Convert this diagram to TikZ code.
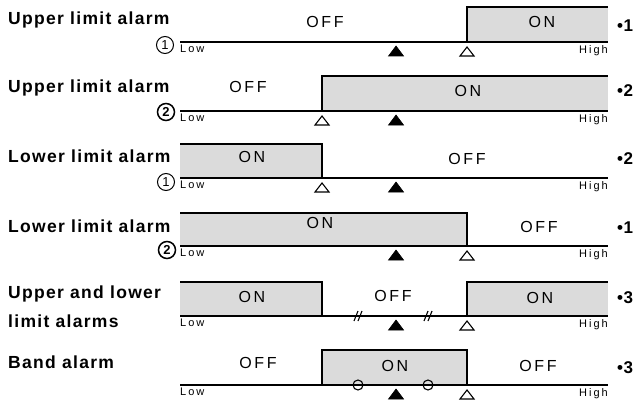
\documentclass[tikz,border=0pt]{standalone}
\usepackage{fontspec}
\setmainfont{Liberation Sans}
\newfontfamily\lblfont[LetterSpace=7.5]{Liberation Sans}
\newfontfamily\stfont[LetterSpace=16]{Liberation Sans}
\newfontfamily\smfont[LetterSpace=18]{Liberation Sans}
\tikzset{
  lbl/.style={font=\lblfont\bfseries\fontsize{17.5}{20}\selectfont, anchor=base west, inner sep=0},
  st/.style={font=\stfont\fontsize{16}{18}\selectfont, anchor=base, inner sep=0},
  lo/.style={font=\smfont\fontsize{11}{12}\selectfont, anchor=north west, inner sep=0},
  hi/.style={font=\smfont\fontsize{11}{12}\selectfont, anchor=north east, inner sep=0},
  note/.style={font=\bfseries\fontsize{17}{19}\selectfont, anchor=base west, inner sep=0},
  num/.style={circle, draw, line width=1pt, minimum size=17pt, inner sep=0, font=\fontsize{13}{14}\selectfont},
  numb/.style={num, line width=1.5pt, font=\bfseries\fontsize{13}{14}\selectfont},
  onfill/.style={fill=black!14},
  edge/.style={line width=1.3pt},
  axis/.style={line width=1.4pt},
  btri/.pic={\filldraw[line width=0.6pt] (0,4) -- (-7.5,14) -- (7.5,14) -- cycle;},
  wtri/.pic={\draw[line width=1.1pt, line join=miter] (0,5) -- (-7,14) -- (7,14) -- cycle;},
}
\begin{document}
\begin{tikzpicture}[x=1pt,y=-1pt]
\useasboundingbox (0,0) rectangle (639,401);

% ---------- Row 1: Upper limit alarm (1)
\fill[onfill] (467,7) rectangle (608,42);
\coordinate (a1) at (180,42); \coordinate (b1) at (608,42);
\coordinate (s1) at (467,42); \coordinate (t1) at (467,7); \coordinate (u1) at (608,7);
\draw[edge] (s1) -- (t1) -- (u1);
\draw[axis] (a1) -- (b1);
\node[lbl] (l1) at (8,25) {Upper limit alarm};
\node[st] (off1) at (325,28) {OFF};
\node[st] (on1) at (542,28) {ON};
\node[note] (n1) at (617,32) {•\kern0.5pt1};
\node[num] (c1) at (165,45) {1};
\node[lo] (lo1) at (180,45) {Low};
\node[hi] (hi1) at (608,45) {High};
\pic at (396,42) {btri};
\pic at (467,42) {wtri};

% ---------- Row 2: Upper limit alarm (2)
\fill[onfill] (322,76) rectangle (608,111);
\coordinate (a2) at (180,111); \coordinate (b2) at (608,111);
\coordinate (s2) at (322,111); \coordinate (t2) at (322,76); \coordinate (u2) at (608,76);
\draw[edge] (s2) -- (t2) -- (u2);
\draw[axis] (a2) -- (b2);
\node[lbl] (l2) at (8,93) {Upper limit alarm};
\node[st] (off2) at (248,93) {OFF};
\node[st] (on2) at (468,97) {ON};
\node[note] (n2) at (617,97) {•\kern0.5pt2};
\node[numb] (c2) at (166,112) {2};
\node[lo] (lo2) at (180,114) {Low};
\node[hi] (hi2) at (608,114) {High};
\pic at (322,111) {wtri};
\pic at (396,111) {btri};

% ---------- Row 3: Lower limit alarm (1)
\fill[onfill] (180,144) rectangle (322,178);
\coordinate (a3) at (180,178); \coordinate (b3) at (608,178);
\coordinate (t3) at (180,144); \coordinate (u3) at (322,144); \coordinate (s3) at (322,178);
\draw[edge] (t3) -- (u3) -- (s3);
\draw[axis] (a3) -- (b3);
\node[lbl] (l3) at (8,162) {Lower limit alarm};
\node[st] (on3) at (252,162) {ON};
\node[st] (off3) at (467,164) {OFF};
\node[note] (n3) at (617,164) {•\kern0.5pt2};
\node[num] (c3) at (166,182) {1};
\node[lo] (lo3) at (180,181) {Low};
\node[hi] (hi3) at (608,181) {High};
\pic at (322,178) {wtri};
\pic at (396,178) {btri};

% ---------- Row 4: Lower limit alarm (2)
\fill[onfill] (180,213) rectangle (467,246);
\coordinate (a4) at (180,246); \coordinate (b4) at (608,246);
\coordinate (t4) at (180,213); \coordinate (u4) at (467,213); \coordinate (s4) at (467,246);
\draw[edge] (t4) -- (u4) -- (s4);
\draw[axis] (a4) -- (b4);
\node[lbl] (l4) at (8,232) {Lower limit alarm};
\node[st] (on4) at (320,228) {ON};
\node[st] (off4) at (539,232) {OFF};
\node[note] (n4) at (617,233) {•\kern0.5pt1};
\node[numb] (c4) at (167,250) {2};
\node[lo] (lo4) at (180,249) {Low};
\node[hi] (hi4) at (608,249) {High};
\pic at (396,246) {btri};
\pic at (467,246) {wtri};

% ---------- Row 5: Upper and lower limit alarms
\fill[onfill] (180,282) rectangle (322,316);
\fill[onfill] (467,282) rectangle (608,316);
\coordinate (a5) at (180,316); \coordinate (b5) at (608,316);
\coordinate (t5) at (180,282); \coordinate (u5) at (322,282); \coordinate (s5) at (322,316);
\coordinate (p5) at (467,316); \coordinate (q5) at (467,282); \coordinate (r5) at (608,282);
\draw[edge] (t5) -- (u5) -- (s5);
\draw[edge] (p5) -- (q5) -- (r5);
\draw[axis] (a5) -- (b5);
\draw[line width=1.1pt] (354,321) -- (358,311) (358,321) -- (362,311);
\draw[line width=1.1pt] (424,321) -- (428,311) (428,321) -- (432,311);
\node[lbl] (l5a) at (8,298) {Upper and lower};
\node[lbl] (l5b) at (8,327) {limit alarms};
\node[st] (on5a) at (252,302) {ON};
\node[st] (off5) at (393,301) {OFF};
\node[st] (on5b) at (540,303) {ON};
\node[note] (n5) at (617,303) {•\kern0.5pt3};
\node[lo] (lo5) at (180,319) {Low};
\node[hi] (hi5) at (608,319) {High};
\pic at (396,316) {btri};
\pic at (467,316) {wtri};

% ---------- Row 6: Band alarm
\fill[onfill] (322,350) rectangle (467,385);
\coordinate (a6) at (180,385); \coordinate (b6) at (608,385);
\coordinate (s6) at (322,385); \coordinate (t6) at (322,350);
\coordinate (u6) at (467,350); \coordinate (v6) at (467,385);
\draw[edge] (s6) -- (t6) -- (u6) -- (v6);
\draw[axis] (a6) -- (b6);
\draw[line width=1.1pt] (358,385) circle (5);
\draw[line width=1.1pt] (428,385) circle (5);
\node[lbl] (l6) at (8,368) {Band alarm};
\node[st] (off6a) at (258,368) {OFF};
\node[st] (on6) at (395,371) {ON};
\node[st] (off6b) at (538,371) {OFF};
\node[note] (n6) at (617,373) {•\kern0.5pt3};
\node[lo] (lo6) at (180,388) {Low};
\node[hi] (hi6) at (608,388) {High};
\pic at (396,385) {btri};
\pic at (467,385) {wtri};
\end{tikzpicture}
\end{document}
